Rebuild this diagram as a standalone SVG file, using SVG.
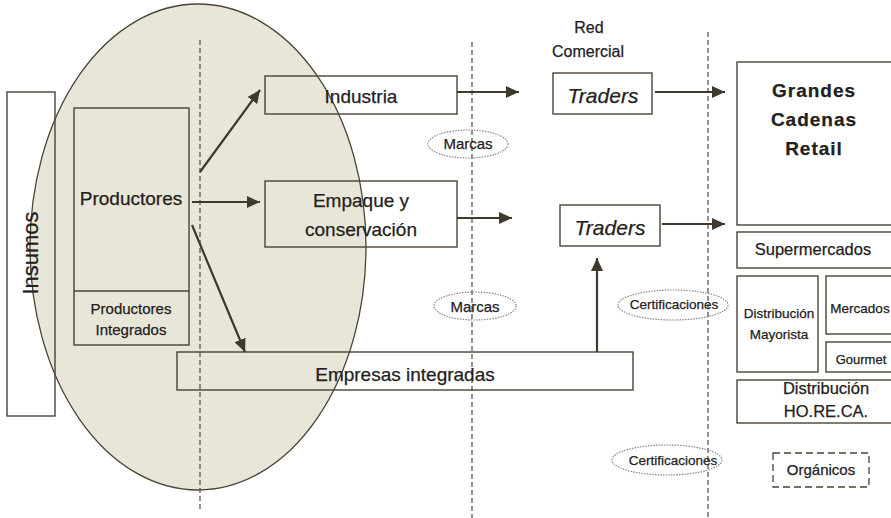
<svg xmlns="http://www.w3.org/2000/svg" width="891" height="518" viewBox="0 0 891 518">
<style>
.bx{fill:none;stroke:#4a4336;stroke-width:1.4}
.dl{fill:none;stroke:#4f4a42;stroke-width:1.2;stroke-dasharray:5,3}
.dot{fill:none;stroke:#8a8780;stroke-width:1.2;stroke-dasharray:1.5,1.2}
.ar{fill:none;stroke:#3f382c;stroke-width:2.2}
text{font-family:"Liberation Sans",Arial,sans-serif;fill:#24211d;stroke:#24211d;stroke-width:0.25;text-anchor:middle}
</style>
<defs>
<marker id="ah" markerUnits="userSpaceOnUse" markerWidth="13" markerHeight="12" refX="13" refY="6" orient="auto">
<path d="M0,0 L13,6 L0,12 z" fill="#3f382c"/>
</marker>
</defs>
<rect width="891" height="518" fill="#fff"/>
<ellipse id="region" cx="198" cy="247" rx="168" ry="243" fill="#e8e5d9" stroke="#4a4336" stroke-width="1.3"/>
<g id="dividers">
<line class="dl" x1="200" y1="40" x2="200" y2="510"/>
<line class="dl" x1="472" y1="42" x2="472" y2="518"/>
<line class="dl" x1="708" y1="32" x2="708" y2="518"/>
</g>
<g id="insumos"><rect class="bx" x="7" y="92" width="48" height="324"/>
<text transform="translate(38,253) rotate(-90)" font-size="22">Insumos</text></g>
<g id="productores"><rect class="bx" x="74" y="108" width="115" height="237"/>
<line class="bx" x1="74" y1="291" x2="189" y2="291"/>
<text x="131" y="205" font-size="19">Productores</text></g>
<g id="productores-integrados">
<text x="131" y="314" font-size="15">Productores</text>
<text x="131" y="335" font-size="15">Integrados</text></g>
<g id="industria"><rect class="bx" x="265" y="76" width="192" height="38"/>
<text x="361" y="103" font-size="19">Industria</text></g>
<g id="empaque"><rect class="bx" x="265" y="181" width="192" height="66"/>
<text x="361" y="207" font-size="19">Empaque y</text>
<text x="361" y="236" font-size="19">conservación</text></g>
<g id="empresas"><rect class="bx" x="177" y="352" width="456" height="38"/>
<text x="405" y="381" font-size="19">Empresas integradas</text></g>
<g id="red-comercial">
<text x="589" y="33" font-size="16">Red</text>
<text x="588" y="57" font-size="16">Comercial</text></g>
<g id="traders1"><rect class="bx" x="553" y="73" width="99" height="41"/>
<text x="603" y="103" font-size="21" font-style="italic">Traders</text></g>
<g id="traders2"><rect class="bx" x="560" y="205" width="100" height="41"/>
<text x="610" y="235" font-size="21" font-style="italic">Traders</text></g>
<g id="grandes"><rect class="bx" x="737" y="62" width="160" height="163"/>
<text x="814" y="97" font-size="19" font-weight="bold" letter-spacing="1">Grandes</text>
<text x="814" y="126" font-size="19" font-weight="bold" letter-spacing="1">Cadenas</text>
<text x="814" y="155" font-size="19" font-weight="bold" letter-spacing="1">Retail</text></g>
<g id="supermercados"><rect class="bx" x="737" y="232" width="160" height="36"/>
<text x="813" y="255" font-size="16.5">Supermercados</text></g>
<g id="mayorista"><rect class="bx" x="737" y="276" width="81" height="96"/>
<text x="779" y="318" font-size="13.5">Distribución</text>
<text x="779" y="339" font-size="13.5">Mayorista</text></g>
<g id="mercados"><rect class="bx" x="826" y="276" width="70" height="58"/>
<text x="860" y="313" font-size="13.5">Mercados</text></g>
<g id="gourmet"><rect class="bx" x="826" y="342" width="70" height="30"/>
<text x="861" y="364" font-size="13">Gourmet</text></g>
<g id="horeca"><rect class="bx" x="737" y="380" width="160" height="43"/>
<text x="826" y="394" font-size="16.5">Distribución</text>
<text x="826" y="417" font-size="16.5">HO.RE.CA.</text></g>
<g id="organicos"><rect x="773" y="453" width="96" height="34" fill="none" stroke="#4a4336" stroke-width="1.3" stroke-dasharray="7,4"/>
<text x="821" y="475" font-size="15">Orgánicos</text></g>
<g id="marcas1"><ellipse class="dot" cx="468" cy="144" rx="40" ry="14"/>
<text x="468" y="149" font-size="15">Marcas</text></g>
<g id="marcas2"><ellipse class="dot" cx="475" cy="306" rx="41" ry="14"/>
<text x="475" y="312" font-size="15">Marcas</text></g>
<g id="cert1"><ellipse class="dot" cx="673" cy="305" rx="55" ry="15"/>
<text x="674" y="309" font-size="13.5">Certificaciones</text></g>
<g id="cert2"><ellipse class="dot" cx="667" cy="460" rx="55" ry="15"/>
<text x="673" y="465" font-size="13.5">Certificaciones</text></g>
<g id="connectors">
<line class="ar" x1="200" y1="172" x2="260" y2="90" marker-end="url(#ah)"/>
<line class="ar" x1="192" y1="202" x2="260" y2="202" marker-end="url(#ah)"/>
<line class="ar" x1="192" y1="225" x2="245" y2="352" marker-end="url(#ah)"/>
<line class="ar" x1="457" y1="92" x2="519" y2="92" marker-end="url(#ah)"/>
<line class="ar" x1="457" y1="218" x2="512" y2="218" marker-end="url(#ah)"/>
<line class="ar" x1="655" y1="92" x2="725" y2="92" marker-end="url(#ah)"/>
<line class="ar" x1="662" y1="224" x2="725" y2="224" marker-end="url(#ah)"/>
<line class="ar" x1="597" y1="352" x2="597" y2="258" marker-end="url(#ah)"/>
</g>
</svg>
